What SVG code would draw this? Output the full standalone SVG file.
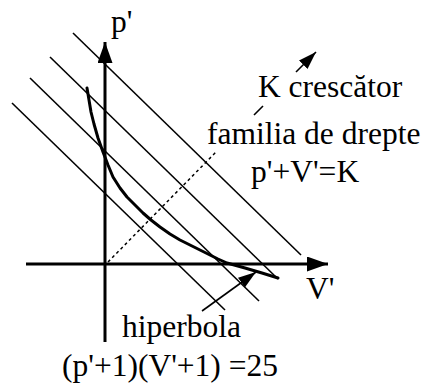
<svg xmlns="http://www.w3.org/2000/svg" width="422" height="384" viewBox="0 0 422 384">
  <style>
    text { font-family: 'Liberation Serif', 'Times New Roman', Times, 'DejaVu Serif', serif; font-size: 31.5px; fill: #000; }
    .axis { stroke: #000; stroke-width: 3; fill: none; }
    .fam { stroke: #000; stroke-width: 1.6; fill: none; }
    .curve { stroke: #000; stroke-width: 3; fill: none; stroke-linejoin: round; stroke-linecap: round; }
    .dot { stroke: #000; stroke-width: 1.5; fill: none; stroke-dasharray: 3 3; }
    .ptr { stroke: #000; stroke-width: 1.6; fill: none; }
  </style>
  <defs>
    <marker id="bigArrow" markerUnits="userSpaceOnUse" markerWidth="21" markerHeight="15" refX="21" refY="7.5" orient="auto">
      <path d="M0,0 L21,7.5 L0,15 z" fill="#000"/>
    </marker>
    <marker id="smallArrow" markerUnits="userSpaceOnUse" markerWidth="18" markerHeight="12" refX="18" refY="6" orient="auto">
      <path d="M0,0 L18,6 L0,12 z" fill="#000"/>
    </marker>
  </defs>
  <rect width="422" height="384" fill="#fff"/>

  <g id="family-lines">
    <line class="fam" x1="73" y1="33" x2="301" y2="255"/>
    <line class="fam" x1="50" y1="57" x2="278" y2="279"/>
    <line class="fam" x1="30" y1="78" x2="259" y2="301"/>
    <line class="fam" x1="12" y1="103" x2="225" y2="310"/>
  </g>

  <g id="axes">
    <line class="axis" x1="105" y1="342" x2="105" y2="42" marker-end="url(#bigArrow)"/>
    <line class="axis" x1="26" y1="264" x2="328" y2="264" marker-end="url(#bigArrow)"/>
  </g>

  <g id="hyperbola">
    <polyline class="curve" points="87,88 89,100 91,112 94,124 98,138 103,152 108,165 113,177 120,188 127,197 135,205 143,213 151,220 160,227 170,234 180,240 190,245 200,250 210,255 218,259 227,263 245,268 262,273 278,278"/>
  </g>

  <g id="connectors">
    <line class="dot" x1="108" y1="262" x2="216" y2="152"/>
    <line class="ptr" x1="254" y1="115" x2="263" y2="106"/>
    <line class="ptr" x1="296" y1="72" x2="316" y2="52" marker-end="url(#smallArrow)"/>
    <line class="ptr" x1="202" y1="311" x2="256" y2="272" marker-end="url(#smallArrow)"/>
  </g>

  <g id="labels" font-family="Liberation Serif, serif">
    <text x="111" y="32" font-family="Liberation Serif, serif">p'</text>
    <text x="258" y="97">K crescător</text>
    <text x="207" y="144">familia de drepte</text>
    <text x="251" y="182">p'+V'=K</text>
    <text x="306" y="299">V'</text>
    <text x="122" y="337">hiperbola</text>
    <text x="62" y="376">(p'+1)(V'+1) =25</text>
  </g>
</svg>
